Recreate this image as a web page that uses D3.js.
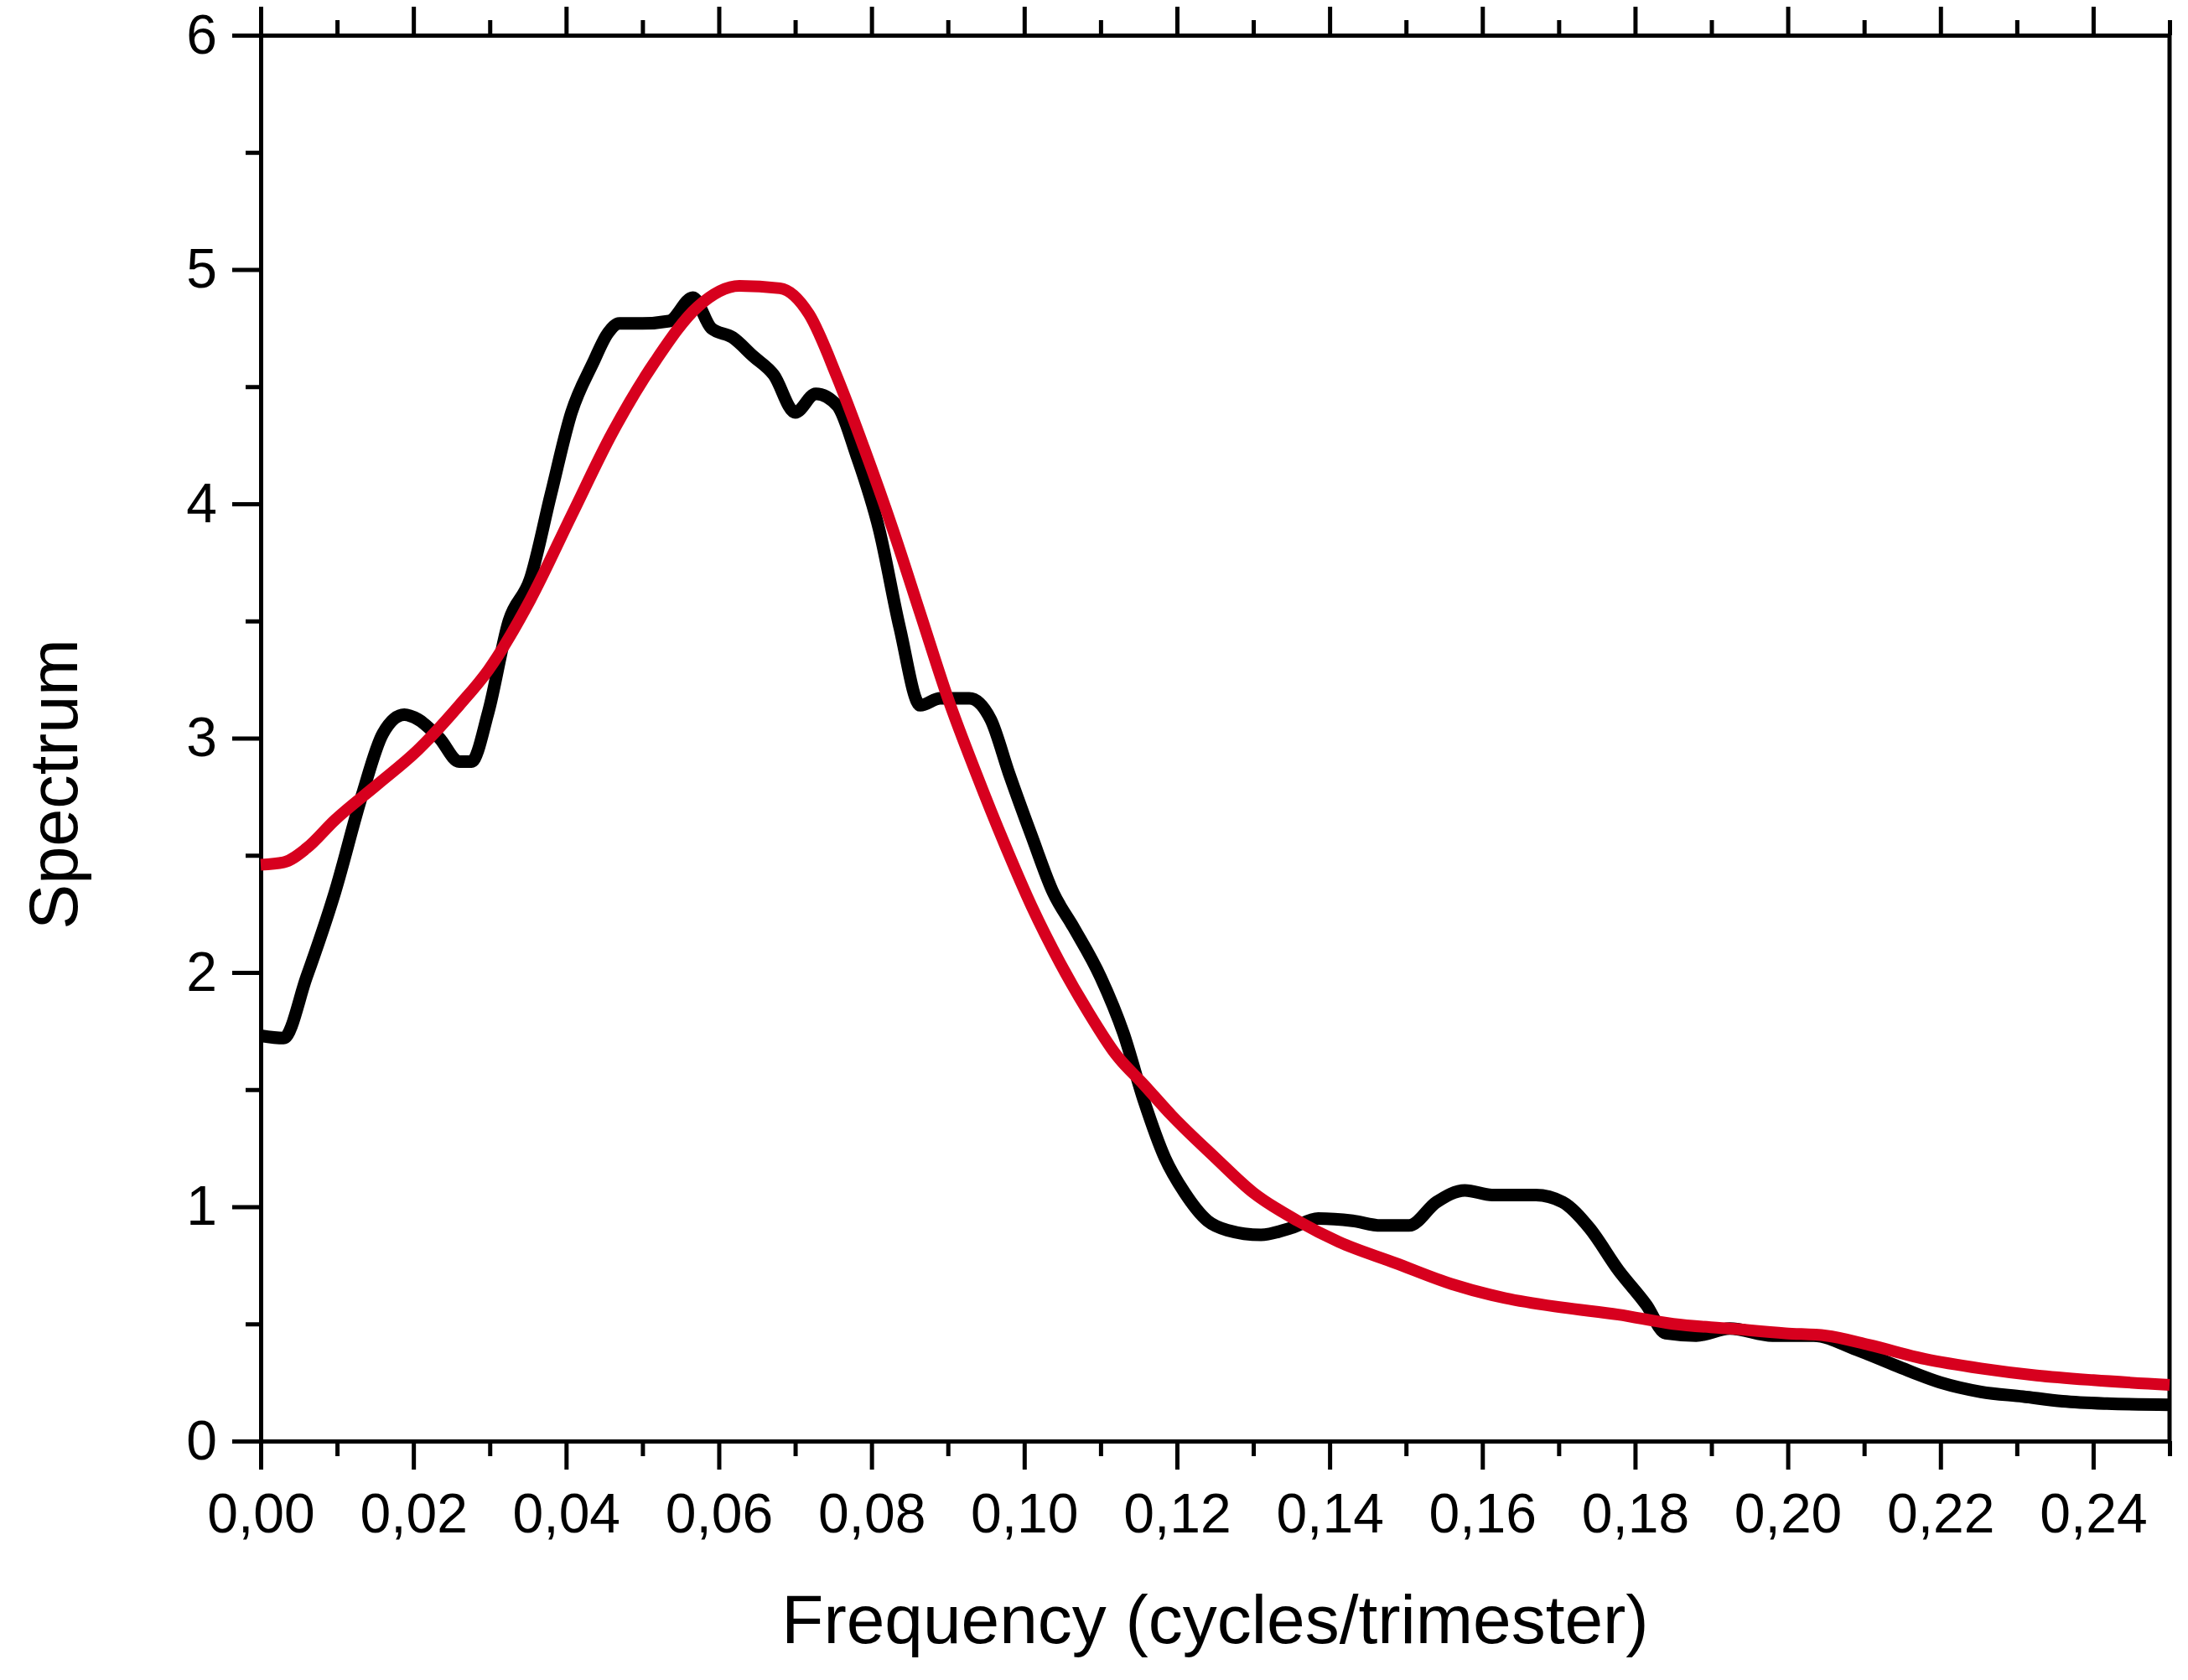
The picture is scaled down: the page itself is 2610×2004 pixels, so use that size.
<!DOCTYPE html>
<html>
<head>
<meta charset="utf-8">
<script src="https://cdn.jsdelivr.net/npm/d3@7"></script>
<style>
  body { margin: 0; background: #fff; }
  text { font-family: "Liberation Sans", Arial, sans-serif; fill: #000; }
</style>
</head>
<body>
<svg id="chart" width="2610" height="2004"></svg>
<script>
// spectrum (black)
var specFreq = [0, 0.003, 0.006, 0.0097, 0.0133, 0.016, 0.0188, 0.0206, 0.0234, 0.026, 0.0276, 0.0298, 0.0325, 0.0353, 0.038, 0.0407, 0.0435, 0.0455, 0.047, 0.05, 0.0535, 0.0566, 0.059, 0.0618, 0.0645, 0.0672, 0.07, 0.0727, 0.0755, 0.078, 0.081, 0.0837, 0.0864, 0.089, 0.0928, 0.0956, 0.098, 0.101, 0.1038, 0.1065, 0.11, 0.113, 0.1157, 0.1184, 0.121, 0.124, 0.1266, 0.131, 0.135, 0.1385, 0.143, 0.1467, 0.1504, 0.154, 0.1577, 0.1614, 0.167, 0.1705, 0.174, 0.1778, 0.1815, 0.184, 0.188, 0.1924, 0.198, 0.2034, 0.209, 0.2143, 0.22, 0.2253, 0.2308, 0.236, 0.2418, 0.25];
var specVal = [1.73, 1.72, 1.98, 2.34, 2.76, 3.02, 3.1, 3.08, 3.0, 2.9, 2.9, 3.11, 3.5, 3.68, 4.04, 4.39, 4.6, 4.73, 4.77, 4.77, 4.78, 4.88, 4.75, 4.71, 4.63, 4.55, 4.39, 4.47, 4.42, 4.21, 3.89, 3.47, 3.14, 3.17, 3.17, 3.08, 2.85, 2.58, 2.34, 2.19, 1.98, 1.74, 1.45, 1.21, 1.06, 0.94, 0.9, 0.88, 0.91, 0.95, 0.94, 0.92, 0.92, 1.02, 1.07, 1.05, 1.05, 1.02, 0.91, 0.73, 0.58, 0.46, 0.45, 0.48, 0.45, 0.45, 0.39, 0.32, 0.25, 0.21, 0.19, 0.17, 0.16, 0.155];

// fitted curve (red)
var fitFreq = [0, 0.003, 0.006, 0.0097, 0.0152, 0.0206, 0.026, 0.0298, 0.0353, 0.0407, 0.046, 0.0517, 0.0572, 0.0627, 0.068, 0.0718, 0.0755, 0.079, 0.0828, 0.0864, 0.09, 0.0937, 0.0974, 0.101, 0.1047, 0.1084, 0.112, 0.1157, 0.1193, 0.125, 0.13, 0.1358, 0.1412, 0.1486, 0.156, 0.163, 0.1705, 0.1778, 0.185, 0.1924, 0.1997, 0.205, 0.2107, 0.218, 0.2253, 0.2326, 0.24, 0.25];
var fitVal = [2.46, 2.47, 2.53, 2.65, 2.8, 2.95, 3.14, 3.29, 3.59, 3.95, 4.3, 4.61, 4.84, 4.93, 4.92, 4.81, 4.54, 4.24, 3.89, 3.53, 3.17, 2.85, 2.55, 2.28, 2.04, 1.83, 1.65, 1.52, 1.39, 1.21, 1.06, 0.94, 0.85, 0.76, 0.67, 0.61, 0.57, 0.54, 0.5, 0.48, 0.46, 0.45, 0.41, 0.35, 0.31, 0.28, 0.26, 0.24];

var xTicks = [0, 0.02, 0.04, 0.06, 0.08, 0.10, 0.12, 0.14, 0.16, 0.18, 0.20, 0.22, 0.24];
var yTicks = [0, 1, 2, 3, 4, 5, 6];

var plotL = 311, plotR = 2588, plotT = 42, plotB = 1719;

var svg = d3.select("#chart");

var x = d3.scaleLinear().domain([0, 0.25]).range([plotL, plotR]);
var y = d3.scaleLinear().domain([0, 6]).range([plotB, plotT]);

var fmt = function(d) { return d3.format(".2f")(d).replace(".", ","); };

var minorX = d3.range(0, 26).filter(function(i){ return i % 2 == 1; }).map(function(i){ return i / 100; });
var minorY = d3.range(0, 6).map(function(i){ return i + 0.5; });

// bottom axis
var bottomAxis = svg.append("g").attr("transform", "translate(0," + plotB + ")");
bottomAxis.call(d3.axisBottom(x).tickValues(xTicks).tickSize(34).tickSizeOuter(0).tickPadding(28).tickFormat(fmt));
bottomAxis.append("g").call(d3.axisBottom(x).tickValues(minorX).tickSize(18).tickSizeOuter(0).tickFormat(""));

// top axis, ticks only
var topAxis = svg.append("g").attr("transform", "translate(0," + plotT + ")");
topAxis.call(d3.axisTop(x).tickValues(xTicks).tickSize(34).tickSizeOuter(0).tickFormat(""));
topAxis.append("g").call(d3.axisTop(x).tickValues(minorX).tickSize(18).tickSizeOuter(0).tickFormat(""));

// left axis
var leftAxis = svg.append("g").attr("transform", "translate(" + plotL + ",0)");
leftAxis.call(d3.axisLeft(y).tickValues(yTicks).tickSize(34).tickSizeOuter(0).tickPadding(18).tickFormat(d3.format("d")));
leftAxis.append("g").call(d3.axisLeft(y).tickValues(minorY).tickSize(18).tickSizeOuter(0).tickFormat(""));

// right axis, plain line
svg.append("line")
  .attr("x1", plotR).attr("x2", plotR)
  .attr("y1", plotT).attr("y2", plotB)
  .attr("stroke", "#000").attr("stroke-width", 5);

svg.selectAll(".domain").attr("stroke", "#000").attr("stroke-width", 5);
svg.selectAll(".tick line").attr("stroke", "#000").attr("stroke-width", 5);
svg.selectAll(".tick text").attr("font-size", 66).attr("font-family", "Liberation Sans, Arial, sans-serif");

var line = d3.line()
  .x(function(d){ return x(d[0]); })
  .y(function(d){ return y(d[1]); })
  .curve(d3.curveMonotoneX);

var specData = specFreq.map(function(f, i){ return [f, specVal[i]]; });
var fitData = fitFreq.map(function(f, i){ return [f, fitVal[i]]; });

svg.append("path")
  .datum(specData)
  .attr("d", line)
  .attr("fill", "none")
  .attr("stroke", "#000")
  .attr("stroke-width", 15)
  .attr("stroke-linejoin", "round");

svg.append("path")
  .datum(fitData)
  .attr("d", line)
  .attr("fill", "none")
  .attr("stroke", "#d7001e")
  .attr("stroke-width", 14)
  .attr("stroke-linejoin", "round");

// axis titles
svg.append("text")
  .attr("x", (plotL + plotR) / 2)
  .attr("y", 1960)
  .attr("text-anchor", "middle")
  .attr("font-size", 82)
  .text("Frequency (cycles/trimester)");

svg.append("text")
  .attr("transform", "translate(92," + ((plotT + plotB) / 2 + 55) + ") rotate(-90)")
  .attr("text-anchor", "middle")
  .attr("font-size", 81)
  .text("Spectrum");
</script>
</body>
</html>
